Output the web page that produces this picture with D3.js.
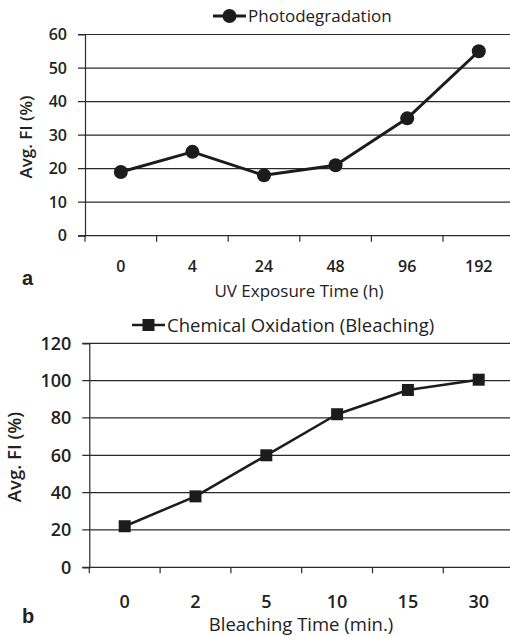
<!DOCTYPE html>
<html>
<head>
<meta charset="utf-8">
<script src="https://cdn.jsdelivr.net/npm/d3@7"></script>
<style>
  body { margin: 0; background: #fff; }
  text { font-family: "Open Sans", sans-serif; fill: #222; }
</style>
</head>
<body>
<div id="my_dataviz"></div>
<script>

// Panel a: photodegradation.
const uvTimes = ["0", "4", "24", "48", "96", "192"];
const uvFI = [19, 25, 18, 21, 35, 55];
const uvTicks = [0, 10, 20, 30, 40, 50, 60];

// Panel b: chemical oxidation.
const bleachTimes = ["0", "2", "5", "10", "15", "30"];
const bleachFI = [22, 38, 60, 82, 95, 100.5];
const bleachTicks = [0, 20, 40, 60, 80, 100, 120];

const W = 510, H = 636;

const svg = d3.select("#my_dataviz")
  .append("svg")
  .attr("width", W)
  .attr("height", H);

const draw_panel = function (opt) {

  const x = d3.scaleBand()
    .domain(opt.cats)
    .range([opt.left, opt.left + opt.band * opt.cats.length]);
  const y = d3.scaleLinear()
    .domain([0, d3.max(opt.ticks)])
    .range([opt.bottom, opt.top]);

  const g = svg.append("g");

  // Horizontal grid lines, running off the right edge.
  g.selectAll("line.grid")
    .data(opt.ticks)
    .join("line")
    .attr("x1", opt.left - 7)
    .attr("x2", W)
    .attr("y1", d => y(d))
    .attr("y2", d => y(d))
    .attr("stroke", "#2a2a2a")
    .attr("stroke-width", 1.2);

  // Y axis with labels.
  const yAxis = g.append("g")
    .attr("transform", `translate(${opt.left}, 0)`)
    .call(d3.axisLeft(y).tickValues(opt.ticks).tickSize(7).tickPadding(11));
  yAxis.select(".domain").attr("stroke", "#2a2a2a").attr("stroke-width", 1.2);
  yAxis.selectAll(".tick line").remove();
  yAxis.selectAll("text")
    .style("font-size", opt.tickFont + "px")
    .style("font-weight", 600)
    .attr("fill", "#222");

  // X ticks sit on the band boundaries, labels at band centres.
  g.selectAll("line.xtick")
    .data(opt.cats)
    .join("line")
    .attr("x1", d => x(d))
    .attr("x2", d => x(d))
    .attr("y1", opt.bottom)
    .attr("y2", opt.bottom + 6)
    .attr("stroke", "#2a2a2a")
    .attr("stroke-width", 1.2);

  g.selectAll("text.xlab")
    .data(opt.cats)
    .join("text")
    .attr("x", d => x(d) + x.bandwidth() / 2)
    .attr("y", opt.xLabelY)
    .attr("text-anchor", "middle")
    .style("font-size", opt.tickFont + "px")
    .style("font-weight", 600)
    .text(d => d);

  // Axis titles.
  g.append("text")
    .attr("x", opt.xTitleX)
    .attr("y", opt.xTitleY)
    .attr("text-anchor", "middle")
    .style("font-size", opt.titleFont + "px")
    .text(opt.xTitle);

  g.append("text")
    .attr("transform", `translate(${opt.yTitleX}, ${opt.yTitleY}) rotate(-90)`)
    .attr("text-anchor", "middle")
    .style("font-size", opt.titleFont + "px")
    .style("font-weight", 600)
    .text("Avg. FI (%)");

  // Panel letter.
  g.append("text")
    .attr("x", 22)
    .attr("y", opt.letterY)
    .style("font-family", "Liberation Sans, Arial, sans-serif")
    .style("font-size", "20px")
    .style("font-weight", "bold")
    .text(opt.letter);

  // The series line.
  const line = d3.line()
    .x((d, i) => x(opt.cats[i]) + x.bandwidth() / 2)
    .y(d => y(d));

  g.append("path")
    .datum(opt.values)
    .attr("fill", "none")
    .attr("stroke", "#1c1c1c")
    .attr("stroke-width", opt.lineWidth)
    .attr("stroke-linejoin", "round")
    .attr("d", line);

  const markers = g.selectAll("g.mark")
    .data(opt.values)
    .join("g")
    .attr("transform", (d, i) => `translate(${x(opt.cats[i]) + x.bandwidth() / 2}, ${y(d)})`);
  add_marker(markers, opt.shape);

  // Legend.
  const lg = g.append("g").attr("transform", `translate(${opt.legendX}, ${opt.legendY})`);
  lg.append("line")
    .attr("x1", 0).attr("x2", 33)
    .attr("stroke", "#1c1c1c")
    .attr("stroke-width", opt.lineWidth);
  add_marker(lg.append("g").attr("transform", "translate(16.5, 0)"), opt.shape);
  lg.append("text")
    .attr("x", 35)
    .attr("y", opt.titleFont * 0.36)
    .style("font-size", opt.titleFont + "px")
    .text(opt.legend);
}

const add_marker = function (sel, shape) {
  if (shape == "circle") {
    sel.append("circle")
      .attr("r", 7)
      .attr("fill", "#1c1c1c");
  } else {
    sel.append("rect")
      .attr("x", -6).attr("y", -6)
      .attr("width", 12).attr("height", 12)
      .attr("fill", "#1c1c1c");
  }
}

draw_panel({
  cats: uvTimes, values: uvFI, ticks: uvTicks,
  left: 85, band: 71.6, top: 34.5, bottom: 235.7,
  tickFont: 16, titleFont: 17,
  xLabelY: 272, xTitle: "UV Exposure Time (h)", xTitleX: 299, xTitleY: 297,
  yTitleX: 32, yTitleY: 137, letter: "a", letterY: 285,
  shape: "circle", lineWidth: 3,
  legend: "Photodegradation", legendX: 213, legendY: 16
});

draw_panel({
  cats: bleachTimes, values: bleachFI, ticks: bleachTicks,
  left: 89.3, band: 70.8, top: 343.3, bottom: 567.3,
  tickFont: 18, titleFont: 18.5,
  xLabelY: 608, xTitle: "Bleaching Time (min.)", xTitleX: 301, xTitleY: 631,
  yTitleX: 21, yTitleY: 457, letter: "b", letterY: 623,
  shape: "square", lineWidth: 2.5,
  legend: "Chemical Oxidation (Bleaching)", legendX: 132, legendY: 325
});

</script>
</body>
</html>
